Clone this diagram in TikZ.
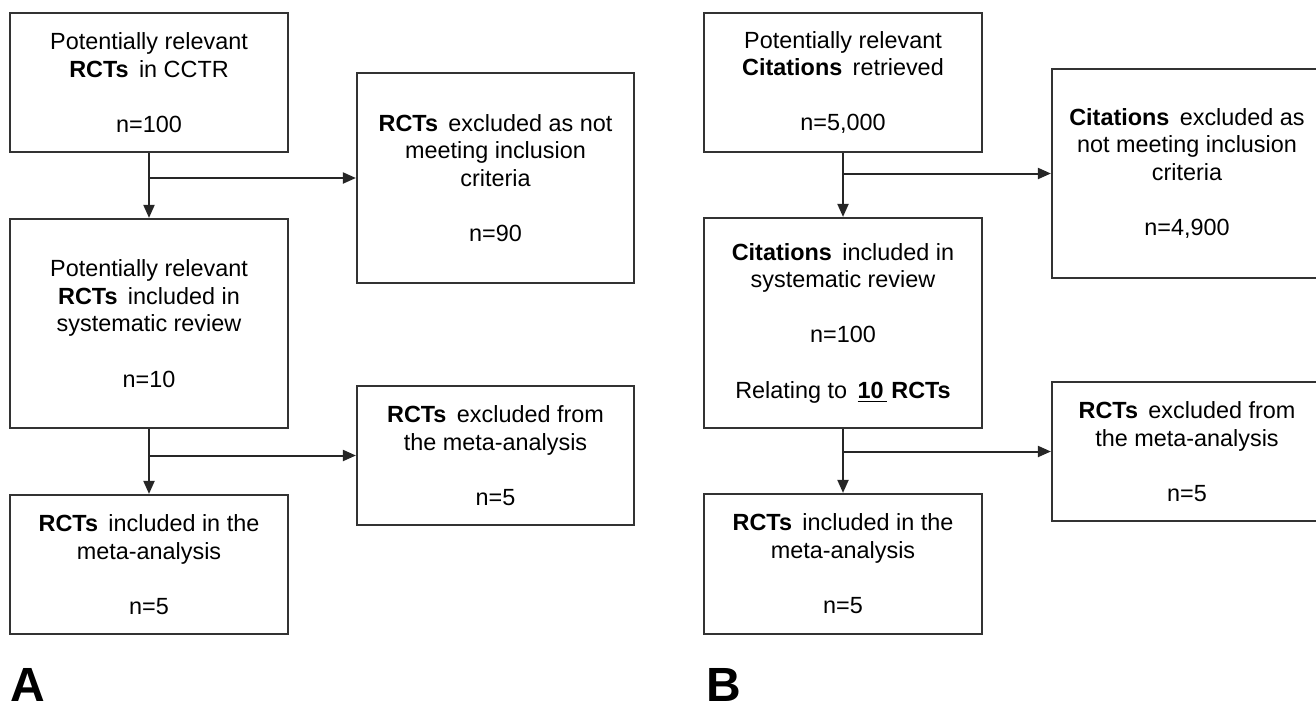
\documentclass[tikz,border=0pt]{standalone}
\usepackage{fontspec}
\setmainfont{Liberation Sans}
\usetikzlibrary{positioning,arrows.meta}

\tikzset{
  flowbox/.style = {draw=black!80, line width=1.1pt, rectangle, align=center, inner sep=0pt,
    font=\fontsize{11.7}{13.8}\selectfont},
  smallbox/.style = {flowbox, minimum width=139pt, minimum height=69.5pt},
  tallbox/.style = {flowbox, minimum width=139pt, minimum height=105pt},
  flowarrow/.style = {draw=black!85, line width=1pt, -{Triangle[length=6.5pt,width=5.5pt]}},
  panellabel/.style = {anchor=base west, inner sep=0pt, font=\fontsize{24}{26}\selectfont\bfseries}
}

\begin{document}
\begin{tikzpicture}[x=0.5pt,y=-0.5pt]
	\useasboundingbox (0,0) rectangle (1316,707);
	\clip (0,0) rectangle (1316,707);
	% panel A
	\node[smallbox] (a1) at (149,82.5) {Potentially relevant\\\textbf{RCTs}\, in CCTR\\[13.8pt]n=100};
	\node[tallbox, minimum width=138.5pt] (a2) at (495.5,178) {\textbf{RCTs}\, excluded as not\\meeting inclusion\\criteria\\[13.8pt]n=90};
	\node[tallbox, minimum height=104.5pt] (a3) at (149,323.5) {Potentially relevant\\\textbf{RCTs}\, included in\\systematic review\\[13.8pt]n=10};
	\node[smallbox, minimum width=138.5pt] (a4) at (495.5,455.5) {\textbf{RCTs}\, excluded from\\the meta-analysis\\[13.8pt]n=5};
	\node[smallbox] (a5) at (149,564.5) {\textbf{RCTs}\, included in the\\meta-analysis\\[13.8pt]n=5};
	\draw[flowarrow] (a1) -- (a3);
	\draw[flowarrow] (a1.south |- a2.west) -- (a2.west);
	\draw[flowarrow] (a3) -- (a5);
	\draw[flowarrow] (a3.south |- a4.west) -- (a4.west);
	\node[panellabel] (labA) at (10,701) {A};
	% panel B
	\node[smallbox] (b1) at (843,82.5) {Potentially relevant\\\textbf{Citations}\, retrieved\\[13.8pt]n=5,000};
	\node[tallbox, minimum width=135pt, minimum height=104.5pt] (b2) at (1187,173.5) {\textbf{Citations}\, excluded as\\not meeting inclusion\\criteria\\[13.8pt]n=4,900};
	\node[tallbox] (b3) at (843,323) {\textbf{Citations}\, included in\\systematic review\\[13.8pt]n=100\\[13.8pt]Relating to\, \underline{\textbf{10}\,}\,\textbf{RCTs}};
	\node[smallbox, minimum width=135pt] (b4) at (1187,451.5) {\textbf{RCTs}\, excluded from\\the meta-analysis\\[13.8pt]n=5};
	\node[smallbox, minimum height=70pt] (b5) at (843,564) {\textbf{RCTs}\, included in the\\meta-analysis\\[13.8pt]n=5};
	\draw[flowarrow] (b1) -- (b3);
	\draw[flowarrow] (b1.south |- b2.west) -- (b2.west);
	\draw[flowarrow] (b3) -- (b5);
	\draw[flowarrow] (b3.south |- b4.west) -- (b4.west);
	\node[panellabel] (labB) at (706,701) {B};
\end{tikzpicture}
\end{document}
